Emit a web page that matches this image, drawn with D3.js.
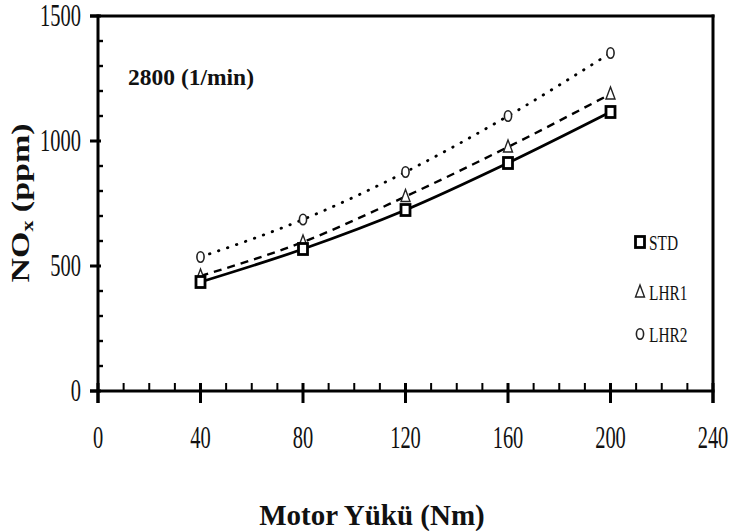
<!DOCTYPE html>
<html>
<head>
<meta charset="utf-8">
<script src="https://cdn.jsdelivr.net/npm/d3@7"></script>
<style>
  html, body { margin: 0; padding: 0; background: #fff; }
  svg { display: block; }
  text { font-family: "Liberation Serif", "Times New Roman", serif; fill: #111; }
</style>
</head>
<body>
<svg id="chart" width="731" height="531"></svg>
<script>
// Engine load (Nm) and NOx emissions (ppm) at 2800 1/min
const loads = [40, 80, 120, 160, 200];
const std  = [436, 568, 724, 912, 1116];
const lhr1 = [460, 596, 778, 976, 1188];
const lhr2 = [536, 686, 876, 1100, 1352];

const seriesNames = ["STD", "LHR1", "LHR2"];
const xTicks = [0, 40, 80, 120, 160, 200, 240];
const yTicks = [0, 500, 1000, 1500];

const svg = d3.select("#chart");
const plotL = 98, plotR = 713, plotT = 16, plotB = 391;

const x = d3.scaleLinear().domain([0, 240]).range([plotL, plotR]);
const y = d3.scaleLinear().domain([0, 1500]).range([plotB, plotT]);

const sx = 0.66; // condensed glyph width
const lw = 3;    // frame line weight

// plot frame drawn as solid bars: top, bottom, left, right
const frame = svg.append("g").attr("class", "frame").attr("fill", "#000");
frame.append("rect").attr("x", plotL - 8).attr("y", plotT - lw / 2).attr("width", plotR - plotL + 8 + lw / 2).attr("height", lw);
frame.append("rect").attr("x", plotL - 8).attr("y", plotB - lw / 2).attr("width", plotR - plotL + 8 + lw / 2).attr("height", lw);
frame.append("rect").attr("x", plotL - lw / 2).attr("y", plotT - lw / 2).attr("width", lw).attr("height", plotB + 12 - plotT + lw / 2);
frame.append("rect").attr("x", plotR - lw / 2).attr("y", plotT - lw / 2).attr("width", lw).attr("height", plotB + 12 - plotT + lw / 2);

// x axis ticks and labels
const xAxis = svg.append("g").attr("class", "x-axis");
const xMinor = d3.range(0, 241, 10).filter(v => v % 40 !== 0);
xAxis.selectAll("rect.xminor").data(xMinor).join("rect").attr("class", "xminor")
  .attr("x", d => x(d) - 1).attr("y", plotB - 8).attr("width", 2).attr("height", 8);
xAxis.selectAll("rect.xmajor").data(xTicks).join("rect").attr("class", "xmajor")
  .attr("x", d => x(d) - lw / 2).attr("y", plotB - 8).attr("width", lw).attr("height", 20);
xAxis.selectAll("g.xlab").data(xTicks).join("g").attr("class", "xlab")
  .attr("transform", d => `translate(${x(d)},${plotB + 57}) scale(${sx},1)`)
  .append("text").attr("text-anchor", "middle")
  .attr("font-size", 31).text(d => d);

// y axis ticks and labels
const yAxis = svg.append("g").attr("class", "y-axis");
const yMinor = d3.range(0, 1501, 100).filter(v => v % 500 !== 0);
yAxis.selectAll("rect.yminor").data(yMinor).join("rect").attr("class", "yminor")
  .attr("x", plotL).attr("y", d => y(d) - 1.2).attr("width", 5).attr("height", 2.4);
yAxis.selectAll("rect.ymajor").data(yTicks).join("rect").attr("class", "ymajor")
  .attr("x", plotL - 8).attr("y", d => y(d) - lw / 2).attr("width", 11).attr("height", lw);
yAxis.selectAll("g.ylab").data(yTicks).join("g").attr("class", "ylab")
  .attr("transform", d => `translate(81,${y(d) + 10}) scale(${sx},1)`)
  .append("text").attr("text-anchor", "end")
  .attr("font-size", 31).text(d => d);

// axis titles
svg.append("text").attr("x", 372).attr("y", 525).attr("text-anchor", "middle")
  .attr("font-size", 29).attr("font-weight", "bold").text("Motor Yükü (Nm)");

const yt = svg.append("g").attr("transform", "translate(29,203) rotate(-90) scale(1,0.72)")
  .append("text").attr("text-anchor", "middle").attr("font-size", 34).attr("font-weight", "bold");
yt.append("tspan").text("NO");
yt.append("tspan").attr("font-size", 22).attr("dy", 6).text("x");
yt.append("tspan").attr("dy", -6).text(" (ppm)");

// operating speed label
svg.append("text").attr("x", 128).attr("y", 85)
  .attr("font-size", 23.5).attr("font-weight", "bold").text("2800 (1/min)");

// curves
const data = [std, lhr1, lhr2].map((vals, i) => ({
  name: seriesNames[i],
  pts: loads.map((l, j) => ({ x: l, y: vals[j] }))
}));
const line = d3.line().x(d => x(d.x)).y(d => y(d.y)).curve(d3.curveMonotoneX);
const styles = [
  { width: 2.8, dash: null, cap: "round" },
  { width: 2.4, dash: "8,6", cap: "butt" },
  { width: 2.8, dash: "0.5,9", cap: "round" }
];
svg.selectAll("path.curve").data(data).join("path").attr("class", "curve")
  .attr("d", d => line(d.pts))
  .attr("fill", "none").attr("stroke", "#000")
  .attr("stroke-width", (d, i) => styles[i].width)
  .attr("stroke-dasharray", (d, i) => styles[i].dash)
  .attr("stroke-linecap", (d, i) => styles[i].cap);

// markers
function marker(g, kind, cx, cy) {
  if (kind === 0) {
    g.append("rect").attr("x", cx - 4.5).attr("y", cy - 5.5).attr("width", 9).attr("height", 11)
      .attr("fill", "#fff").attr("stroke", "#000").attr("stroke-width", 2.8);
  } else if (kind === 1) {
    g.append("path").attr("d", `M${cx},${cy - 7}L${cx + 4.5},${cy + 5}L${cx - 4.5},${cy + 5}Z`)
      .attr("fill", "#fff").attr("stroke", "#222").attr("stroke-width", 1.4);
  } else {
    g.append("ellipse").attr("cx", cx).attr("cy", cy).attr("rx", 3.6).attr("ry", 5.2)
      .attr("fill", "#fff").attr("stroke", "#222").attr("stroke-width", 1.6);
  }
}
const mg = svg.append("g").attr("class", "markers");
[2, 1, 0].forEach(i => {
  data[i].pts.forEach(p => marker(mg, i, x(p.x), y(p.y)));
});

// legend
const legY = [242, 292, 334];
const lg = svg.append("g").attr("class", "legend");
seriesNames.forEach((name, i) => {
  marker(lg, i, 640, legY[i]);
  lg.append("g").attr("transform", `translate(649,${legY[i] + 8}) scale(0.7,1)`)
    .append("text").attr("font-size", 22).text(name);
});
</script>
</body>
</html>
